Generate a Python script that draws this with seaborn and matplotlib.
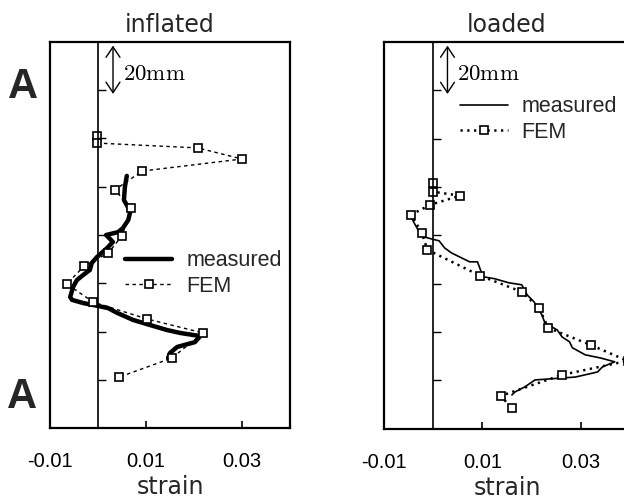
import matplotlib
matplotlib.use("Agg")
import matplotlib.pyplot as plt
import matplotlib.transforms as mtransforms
import seaborn as sns
import pandas as pd

# ---------------- data (strain, position along A-A in mm from bottom) ----------------
infl_meas_strain = [0.0060, 0.0056, 0.0054, 0.0060, 0.0067, 0.0063, 0.0052, 0.0042, 0.0017,
                    0.0031, 0.0019, 0.0010, -0.0002, -0.0013, -0.0017, -0.0031, -0.0044,
                    -0.0052, -0.0058, -0.0054, -0.0031, 0.0000, 0.0021, 0.0040, 0.0073,
                    0.0108, 0.0144, 0.0171, 0.0213, 0.0202, 0.0165, 0.0150, 0.0146]
infl_meas_pos = [104.5, 99.9, 94.5, 92.4, 89.5, 86.2, 82.9, 81.2, 80.0, 77.1, 74.6, 73.0,
                 70.9, 68.4, 65.5, 63.4, 61.3, 58.4, 54.3, 53.1, 51.8, 50.6, 49.7, 47.7,
                 44.8, 42.7, 40.6, 39.4, 38.1, 35.6, 33.6, 31.1, 29.0]

infl_fem_strain = [-0.0002, -0.0002, 0.0208, 0.0300, 0.0092, 0.0035, 0.0069, 0.0050, 0.0021,
                   -0.0029, -0.0065, -0.0010, 0.0102, 0.0219, 0.0154, 0.0044]
infl_fem_pos = [121.0, 118.1, 116.1, 111.5, 106.5, 98.7, 91.2, 79.6, 72.5, 67.1, 59.7,
                52.2, 45.2, 39.4, 29.0, 21.1]

load_meas_strain = [-0.0045, -0.0039, -0.0031, -0.0020, -0.0004, 0.0012, 0.0023, 0.0037,
                    0.0057, 0.0074, 0.0090, 0.0096, 0.0102, 0.0125, 0.0154, 0.0180, 0.0191,
                    0.0205, 0.0221, 0.0227, 0.0252, 0.0262, 0.0277, 0.0283, 0.0309, 0.0340,
                    0.0369, 0.0344, 0.0334, 0.0289, 0.0207, 0.0186, 0.0166, 0.0160]
load_meas_pos = [87.7, 85.2, 82.3, 79.4, 78.5, 77.7, 74.8, 72.7, 70.7, 69.0, 69.0, 65.7,
                 62.8, 62.0, 60.3, 59.5, 55.3, 52.4, 47.0, 43.7, 40.8, 37.9, 35.9, 33.4,
                 30.5, 29.2, 27.6, 25.5, 23.4, 21.3, 20.1, 17.2, 15.1, 13.9]

load_fem_strain = [0.0000, 0.0000, 0.0055, -0.0006, -0.0045, -0.0023, -0.0012, 0.0096,
                   0.0180, 0.0215, 0.0234, 0.0320, 0.0395, 0.0262, 0.0137, 0.0160]
load_fem_pos = [101.8, 98.0, 96.4, 92.6, 88.5, 81.0, 74.0, 63.2, 56.6, 49.9, 41.6, 34.6,
                28.0, 22.2, 13.5, 8.5]

panel_titles = ["inflated", "loaded"]
series_labels = ["measured", "FEM"]
x_ticks = [-0.01, 0.01, 0.03]
x_tick_labels = ["-0.01", "0.01", "0.03"]
pos_ticks = [20, 40, 60, 80, 100, 120, 140]
x_label = "strain"
scale_label = r"$\mathrm{20mm}$"
scale_len = 20
end_label = "A"

# ---------------- style ----------------
sns.set_style("white")
plt.rcParams["font.family"] = ["DejaVu Sans"]
plt.rcParams["mathtext.fontset"] = "cm"
SANS = ["Liberation Sans", "DejaVu Sans"]

W, H = 624, 504
fig = plt.figure(figsize=(W / 100, H / 100), dpi=100)
fig.patch.set_facecolor("white")


def px_axes(left, top, right, bottom):
    return fig.add_axes([left / W, 1 - bottom / H, (right - left) / W, (bottom - top) / H])


ax_l = px_axes(50, 42, 290, 428)
ax_r = px_axes(384, 42, 630, 428.5)

panels = [
    (ax_l, infl_meas_strain, infl_meas_pos, infl_fem_strain, infl_fem_pos,
     dict(lw=3.2), dict(lw=1.0, dashes=(2.5, 2.5)), (0.3125, 0.46), 0.2625),
    (ax_r, load_meas_strain, load_meas_pos, load_fem_strain, load_fem_pos,
     dict(lw=1.2), dict(lw=1.8, dashes=(0.9, 1.8)), (0.31, 0.859), 0.258),
]

for i, (ax, ms, mp, fs, fp, mstyle, fstyle, leg_anchor, arrow_x) in enumerate(panels):
    ax.set_facecolor("white")
    dm = pd.DataFrame({"strain": ms, "pos": mp})
    dfm = pd.DataFrame({"strain": fs, "pos": fp})
    sns.lineplot(data=dm, x="strain", y="pos", sort=False, estimator=None, ax=ax,
                 color="black", label=series_labels[0], **mstyle)
    sns.lineplot(data=dfm, x="strain", y="pos", sort=False, estimator=None, ax=ax,
                 color="black", marker="s", markersize=5.5, markerfacecolor="white",
                 markeredgecolor="black", markeredgewidth=1.2,
                 label=series_labels[1], **fstyle)

    ax.set_xlim(-0.01, 0.04)
    ax.set_ylim(0, 160)
    ax.set_xlabel(x_label, fontsize=17, labelpad=3)
    ax.set_ylabel("")
    ax.set_title(panel_titles[i], fontsize=17, pad=7)
    ax.set_xticks(x_ticks)
    ax.set_xticklabels(x_tick_labels, family=SANS, fontsize=14.5)
    ax.set_yticks([])
    ax.tick_params(axis="x", direction="in", length=5, width=1.2, pad=17.5,
                   bottom=True, colors="black")
    for s in ax.spines.values():
        s.set_visible(True)
        s.set_color("black")
        s.set_linewidth(1.6)

    # zero line with position ticks
    ax2 = ax.twinx()
    ax2.set_ylim(ax.get_ylim())
    for s in ["top", "bottom", "left"]:
        ax2.spines[s].set_visible(False)
    ax2.spines["right"].set_position(("data", 0))
    ax2.spines["right"].set_color("black")
    ax2.spines["right"].set_linewidth(1.2)
    ax2.set_yticks(pos_ticks)
    ax2.tick_params(axis="y", direction="out", length=6, width=1.0, right=True,
                    labelright=False, colors="black")
    ax2.grid(False)

    # scale arrow (20 mm)
    trans = mtransforms.blended_transform_factory(ax.transAxes, ax.transData)
    ax.annotate("", xy=(arrow_x, 158.5), xytext=(arrow_x, 158.5 - scale_len),
                xycoords=trans, textcoords=trans,
                arrowprops=dict(arrowstyle="<->,head_length=0.75,head_width=0.5",
                                lw=1.0, color="black", shrinkA=0, shrinkB=0))
    ax.text(arrow_x + 0.040, 147, scale_label, transform=trans, fontsize=16.5,
            ha="left", va="center", color="black")

    leg = ax.legend(loc="upper left", bbox_to_anchor=leg_anchor, frameon=False,
                    prop=dict(family=SANS, size=15.5), handlelength=2.2,
                    handletextpad=0.65, borderpad=0, borderaxespad=0, labelspacing=0.2)

fig.text(23 / W, 1 - 98 / H, end_label, fontsize=30, family=SANS, fontweight="bold",
         ha="center", va="baseline")
fig.text(22 / W, 1 - 408 / H, end_label, fontsize=30, family=SANS, fontweight="bold",
         ha="center", va="baseline")

fig.savefig("out.png", dpi=100, facecolor="white")
